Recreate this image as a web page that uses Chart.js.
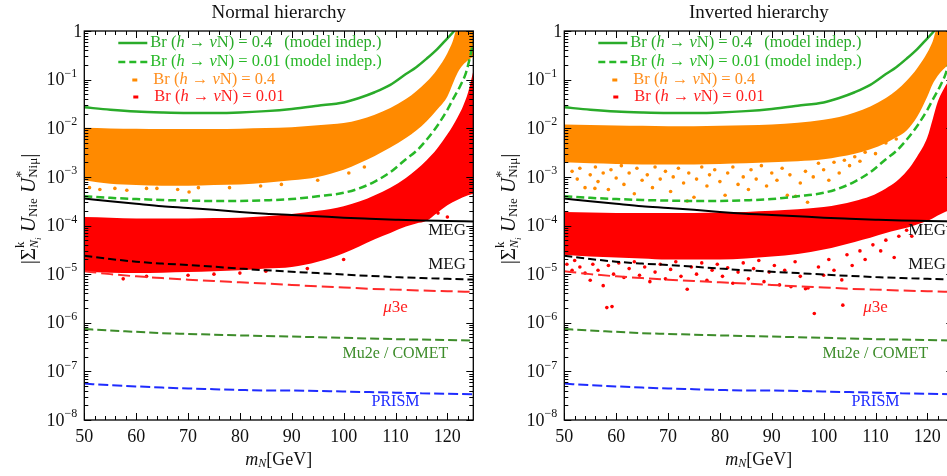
<!DOCTYPE html>
<html>
<head>
<meta charset="utf-8">
<script src="https://cdn.jsdelivr.net/npm/chart.js@4.4.0/dist/chart.umd.min.js"></script>
<style>
html, body { margin: 0; padding: 0; background: #fff; overflow: hidden; }
#wrap { position: relative; width: 947px; height: 476px; overflow: hidden; }
canvas { position: absolute; top: 0; }
</style>
</head>
<body>
<div id="wrap">
  <canvas id="nh" width="480" height="476" style="left:0"></canvas>
  <canvas id="ih" width="480" height="476" style="left:480px"></canvas>
</div>
<script>
const FONT = "'Liberation Serif', 'DejaVu Serif', serif";

// tick labels
const xTicks = [50, 60, 70, 80, 90, 100, 110, 120];
const yTickExps = [0, -1, -2, -3, -4, -5, -6, -7, -8];

// experimental limits (same in both panels)
const mLimit = [50, 55, 60, 65, 70, 75, 80, 85, 90, 95, 100, 105, 110, 115, 120, 125];
const megNow = [3.6e-4, 3.15e-4, 2.8e-4, 2.5e-4, 2.3e-4, 2.1e-4, 1.9e-4, 1.75e-4, 1.65e-4, 1.55e-4, 1.45e-4, 1.38e-4, 1.32e-4, 1.27e-4, 1.24e-4, 1.21e-4];
const megFuture = [2.4e-5, 2.05e-5, 1.8e-5, 1.65e-5, 1.54e-5, 1.42e-5, 1.3e-5, 1.2e-5, 1.12e-5, 1.05e-5, 9.8e-6, 9.2e-6, 8.7e-6, 8.3e-6, 8.0e-6, 7.7e-6];
const mu3e = [1.15e-5, 1.0e-5, 9.0e-6, 8.3e-6, 7.7e-6, 7.2e-6, 6.8e-6, 6.4e-6, 6.0e-6, 5.6e-6, 5.3e-6, 5.0e-6, 4.8e-6, 4.6e-6, 4.45e-6, 4.3e-6];
const mu2e = [7.4e-7, 6.9e-7, 6.5e-7, 6.1e-7, 5.9e-7, 5.7e-7, 5.5e-7, 5.35e-7, 5.2e-7, 5.05e-7, 4.9e-7, 4.75e-7, 4.6e-7, 4.5e-7, 4.4e-7, 4.3e-7];
const prism = [5.6e-8, 5.2e-8, 4.9e-8, 4.65e-8, 4.45e-8, 4.3e-8, 4.15e-8, 4.05e-8, 4.05e-8, 3.95e-8, 3.85e-8, 3.75e-8, 3.65e-8, 3.55e-8, 3.45e-8, 3.38e-8];

// model independent curves
const mBr04 = [50, 55, 60, 65, 70, 75, 80, 85, 90, 95, 100, 103, 106, 109, 112, 114, 116, 118, 119.5, 121, 122];
const br04 = [0.027, 0.024, 0.022, 0.021, 0.0205, 0.0205, 0.021, 0.0225, 0.025, 0.029, 0.034, 0.042, 0.055, 0.078, 0.13, 0.18, 0.27, 0.42, 0.62, 0.92, 1.25];
const mBr001 = [50, 55, 60, 65, 70, 75, 80, 85, 90, 95, 100, 103, 106, 109, 112, 114, 116, 118, 120, 121, 122.5, 123.6, 124.4, 125];
const br001 = [4.0e-4, 3.7e-4, 3.5e-4, 3.35e-4, 3.25e-4, 3.2e-4, 3.2e-4, 3.3e-4, 3.5e-4, 4.0e-4, 4.7e-4, 5.8e-4, 8.0e-4, 1.25e-3, 2.3e-3, 3.4e-3, 5.8e-3, 1.1e-2, 2.4e-2, 3.8e-2, 7.5e-2, 0.14, 0.3, 0.6];

// scan bands
const mBand = [50, 55, 60, 65, 70, 75, 80, 85, 90, 95, 100, 103, 106, 109, 112, 114, 116, 118, 120, 121, 122, 123, 124, 125];
const orangeUpNH = [0.0102, 0.0099, 0.0098, 0.0097, 0.0097, 0.0097, 0.0098, 0.0101, 0.0105, 0.0115, 0.0128, 0.015, 0.019, 0.026, 0.04, 0.058, 0.09, 0.16, 0.35, 0.6, 1.2, 1.2, 1.2, 1.2];
const orangeLoNH = [8.5e-4, 7.2e-4, 6.8e-4, 6.6e-4, 6.6e-4, 6.8e-4, 7.0e-4, 7.6e-4, 8.5e-4, 1.0e-3, 1.4e-3, 1.9e-3, 2.7e-3, 4.0e-3, 6.3e-3, 9.0e-3, 0.014, 0.024, 0.045, 0.08, 0.14, 0.2, 0.25, 0.3];
const redUpNH = [1.5e-4, 1.45e-4, 1.4e-4, 1.4e-4, 1.4e-4, 1.42e-4, 1.45e-4, 1.55e-4, 1.72e-4, 2.0e-4, 2.5e-4, 3.1e-4, 4.2e-4, 6.0e-4, 9.5e-4, 1.4e-3, 2.2e-3, 3.8e-3, 7.5e-3, 0.011, 0.017, 0.028, 0.055, 0.15];
const redLoNH = [1.1e-5, 1.07e-5, 1.05e-5, 1.07e-5, 1.1e-5, 1.15e-5, 1.2e-5, 1.3e-5, 1.4e-5, 1.8e-5, 2.7e-5, 3.7e-5, 5.2e-5, 7.0e-5, 9.5e-5, 1.1e-4, 1.25e-4, 1.8e-4, 2.6e-4, 3.0e-4, 3.4e-4, 3.8e-4, 4.2e-4, 4.5e-4];

const orangeUpIH = [0.012, 0.0117, 0.0114, 0.0112, 0.011, 0.011, 0.0112, 0.0115, 0.012, 0.013, 0.015, 0.017, 0.021, 0.028, 0.042, 0.06, 0.095, 0.17, 0.36, 0.6, 1.2, 1.2, 1.2, 1.2];
const orangeLoIH = [2.0e-3, 1.9e-3, 1.85e-3, 1.8e-3, 1.8e-3, 1.8e-3, 1.85e-3, 1.9e-3, 2.0e-3, 2.1e-3, 2.3e-3, 2.6e-3, 3.0e-3, 3.7e-3, 5.0e-3, 6.5e-3, 9.0e-3, 0.017, 0.045, 0.08, 0.12, 0.16, 0.2, 0.24];
const redUpIH = [1.9e-4, 1.85e-4, 1.8e-4, 1.8e-4, 1.8e-4, 1.8e-4, 1.85e-4, 1.9e-4, 2.0e-4, 2.15e-4, 2.4e-4, 2.7e-4, 3.2e-4, 4.0e-4, 5.8e-4, 8.0e-4, 1.3e-3, 2.6e-3, 6.5e-3, 0.015, 0.035, 0.06, 0.09, 0.12];
const redLoIH = [2.5e-5, 2.3e-5, 2.2e-5, 2.1e-5, 2.0e-5, 2.0e-5, 2.0e-5, 2.1e-5, 2.3e-5, 2.6e-5, 3.2e-5, 3.8e-5, 4.6e-5, 5.6e-5, 7.0e-5, 8.0e-5, 9.0e-5, 1.05e-4, 1.25e-4, 1.4e-4, 1.6e-4, 1.8e-4, 2.0e-4, 2.2e-4];

// scattered points outside the dense bands
const orOutNHm = [51, 53, 55.9, 58.2, 62, 64, 68, 70.2, 72, 78, 84, 88, 95, 101, 104];
const orOutNHu = [6.0e-4, 5.5e-4, 5.8e-4, 5.3e-4, 5.8e-4, 5.8e-4, 5.5e-4, 4.9e-4, 6.0e-4, 6.0e-4, 6.5e-4, 7.0e-4, 8.5e-4, 1.2e-3, 1.6e-3];
const rdOutNHm = [57.5, 62, 70, 75, 80, 85, 93, 100, 118.2, 120];
const rdOutNHu = [8.0e-6, 9.0e-6, 9.5e-6, 1.0e-5, 1.05e-5, 1.15e-5, 1.3e-5, 2.0e-5, 1.8e-4, 1.5e-4];

const orOutIHm = [51.5, 52.5, 53, 54, 55, 55.9, 56, 56.5, 57.5, 58.5, 59, 60, 61, 61.5, 62.5, 63.5, 64, 65, 66, 67, 67.5, 68.5, 69.5, 70.5, 71, 72, 73, 73.7, 74, 75, 75.5, 76.5, 77.5, 78, 79, 80, 81, 81.5, 82.5, 83.5, 84.5, 85.5, 86, 87, 88, 89, 90, 91, 92, 93, 93.5, 94.6, 95.5, 96.5, 96.9, 98, 99, 100, 101, 102, 103, 104, 105, 106, 107, 108, 110, 112, 114];
const orOutIHu = [1.3e-3, 9.0e-4, 1.5e-3, 6.0e-4, 1.1e-3, 5.8e-4, 1.6e-3, 8.0e-4, 1.2e-3, 5.5e-4, 1.4e-3, 9.5e-4, 1.7e-3, 7.0e-4, 1.2e-3, 4.5e-4, 1.5e-3, 8.5e-4, 1.1e-3, 6.0e-4, 1.6e-3, 9.0e-4, 1.3e-3, 5.0e-4, 1.0e-3, 1.5e-3, 7.5e-4, 3.2e-4, 1.2e-3, 3.8e-4, 9.0e-4, 1.6e-3, 6.5e-4, 1.1e-3, 1.4e-3, 8.0e-4, 4.2e-4, 1.2e-3, 1.6e-3, 7.0e-4, 1.0e-3, 5.5e-4, 1.4e-3, 9.0e-4, 1.7e-3, 6.5e-4, 1.2e-3, 8.5e-4, 1.5e-3, 4.2e-4, 1.1e-3, 4.0e-4, 7.5e-4, 1.3e-3, 3.0e-4, 1.0e-3, 1.9e-3, 1.4e-3, 8.5e-4, 2.0e-3, 1.2e-3, 2.2e-3, 1.7e-3, 2.6e-3, 2.1e-3, 3.2e-3, 3.0e-3, 5.0e-3, 6.0e-3];
const rdOutIHm = [50.5, 51.5, 52, 53, 54, 55, 55.5, 56.5, 57.5, 58.2, 59.2, 58.5, 59.5, 60.5, 61.5, 62.5, 63.5, 64.5, 65.5, 66.5, 67.5, 68.5, 69.5, 70.5, 71.5, 72.5, 73.7, 74.5, 75.5, 76.5, 77.5, 78.5, 79.5, 80.5, 81.5, 82.5, 83.5, 84.5, 85.5, 86.5, 87.5, 88.5, 89.5, 90.5, 91.5, 92.5, 93.7, 94.5, 95.5, 96.5, 97, 98.2, 99, 100, 101, 102, 103.5, 103.7, 104.5, 105.5, 107, 108, 109.5, 111, 112, 113.6, 114.5, 116, 117];
const rdOutIHu = [1.6e-5, 1.2e-5, 1.9e-5, 1.4e-5, 1.05e-5, 7.5e-6, 1.6e-5, 1.2e-5, 5.8e-6, 2.05e-6, 2.15e-6, 1.5e-5, 1.0e-5, 1.7e-5, 8.5e-6, 1.3e-5, 1.8e-5, 9.5e-6, 1.4e-5, 7.0e-6, 1.1e-5, 1.6e-5, 8.0e-6, 1.25e-5, 1.8e-5, 9.0e-6, 4.9e-6, 1.4e-5, 1.0e-5, 1.7e-5, 7.5e-6, 1.2e-5, 1.6e-5, 9.0e-6, 1.35e-5, 6.5e-6, 1.1e-5, 1.7e-5, 8.0e-6, 1.3e-5, 1.9e-5, 7.0e-6, 1.1e-5, 1.5e-5, 6.0e-6, 1.2e-5, 5.5e-6, 1.8e-5, 9.0e-6, 5.0e-6, 5.2e-6, 1.55e-6, 1.4e-5, 9.5e-6, 2.0e-5, 1.2e-5, 7.6e-6, 2.3e-6, 2.5e-5, 1.5e-5, 3.0e-5, 2.0e-5, 4.0e-5, 3.0e-5, 5.0e-5, 2.2e-5, 6.0e-5, 8.0e-5, 6.0e-5];

const GREEN = '#2aab2a', GREEN2 = '#27b827', DKGREEN = '#3d8c2a', ORANGE = '#ff8a00', RED = '#ff0000', BLUE = '#1f2cff';

function pts(ms, us) { return ms.map((m, i) => ({ x: m, y: us[i] })); }

function lineDs(ms, us, color, width, dash) {
    return { data: pts(ms, us), borderColor: color, borderWidth: width, borderDash: dash || [],
        pointRadius: 0, fill: false, cubicInterpolationMode: 'monotone', order: 1 };
}

function bandDs(ms, up, lo, color, order) {
    return [
        { data: pts(ms, up), borderWidth: 0, borderColor: color, backgroundColor: color, pointRadius: 0,
          fill: '+1', cubicInterpolationMode: 'monotone', order: order },
        { data: pts(ms, lo), borderWidth: 0, pointRadius: 0, fill: false, cubicInterpolationMode: 'monotone', order: order }
    ];
}

function dotsDs(ms, us, color, order) {
    return { type: 'scatter', data: pts(ms, us), showLine: false, pointRadius: 1.8, pointBorderWidth: 0,
        pointBackgroundColor: color, order: order };
}

// draws a sequence of text pieces with their own size / style / offset
function rich(ctx, parts, x, y, align, color) {
    let w = 0;
    parts.forEach(p => {
        ctx.font = (p.i ? 'italic ' : '') + p.s + 'px ' + FONT;
        if (!p.na) w += ctx.measureText(p.t).width;
    });
    let cx = align === 'center' ? x - w / 2 : (align === 'right' ? x - w : x);
    ctx.textAlign = 'left';
    ctx.textBaseline = 'middle';
    parts.forEach(p => {
        ctx.font = (p.i ? 'italic ' : '') + p.s + 'px ' + FONT;
        ctx.fillStyle = p.c || color;
        ctx.fillText(p.t, cx, y + (p.dy || 0));
        if (!p.na) cx += ctx.measureText(p.t).width;
    });
}

function brText(val, extra) {
    const s = 16.5;
    const parts = [{ t: 'Br (', s: s }, { t: 'h', s: s, i: true }, { t: ' \u2192 ', s: s }, { t: '\u03bd', s: s, i: true }, { t: 'N) = ' + val, s: s }];
    if (extra) parts.push({ t: extra, s: s });
    return parts;
}

const decor = {
    id: 'decor',
    afterDraw(chart, args, opts) {
        const ctx = chart.ctx, a = chart.chartArea, xs = chart.scales.x, ys = chart.scales.y;
        ctx.save();

        // frame
        ctx.strokeStyle = '#000';
        ctx.lineWidth = 1.3;
        ctx.strokeRect(a.left, a.top, a.right - a.left, a.bottom - a.top);

        // inward ticks
        ctx.lineWidth = 1;
        ctx.beginPath();
        for (let m = 50; m <= 125; m += 2) {
            const px = Math.round(xs.getPixelForValue(m)) + 0.5;
            const len = m % 10 === 0 ? 7 : 4;
            ctx.moveTo(px, a.bottom); ctx.lineTo(px, a.bottom - len);
            ctx.moveTo(px, a.top); ctx.lineTo(px, a.top + len);
        }
        yTickExps.forEach(e => {
            for (let k = 1; k <= 9; k++) {
                const v = k * Math.pow(10, e);
                if (v > 1.0001) break;
                const py = Math.round(ys.getPixelForValue(v)) + 0.5;
                const len = k === 1 ? 7 : 4;
                ctx.moveTo(a.left, py); ctx.lineTo(a.left + len, py);
                ctx.moveTo(a.right, py); ctx.lineTo(a.right - len, py);
            }
        });
        ctx.stroke();

        // y tick labels
        yTickExps.forEach(e => {
            const py = ys.getPixelForValue(Math.pow(10, e)) + 1;
            if (e === 0) rich(ctx, [{ t: '1', s: 18 }], a.left - 2, py, 'right', '#111');
            else rich(ctx, [{ t: '10', s: 18 }, { t: '\u2212' + (-e), s: 12, dy: -7 }], a.left - 7, py, 'right', '#111');
        });

        // titles
        const cx = (a.left + a.right) / 2;
        rich(ctx, [{ t: opts.title, s: 19 }], cx, 13, 'center', '#111');
        rich(ctx, [{ t: 'm', s: 18, i: true }, { t: 'N', s: 12, i: true, dy: 4 }, { t: '[GeV]', s: 18 }], cx, 460, 'center', '#111');

        ctx.save();
        ctx.translate(29, 209);
        ctx.rotate(-Math.PI / 2);
        rich(ctx, [
            { t: '|\u03a3', s: 21 },
            { t: 'k', s: 13, dy: -8, na: true },
            { t: 'N', s: 12, i: true, dy: 6 }, { t: 'i', s: 9, i: true, dy: 10 },
            { t: ' U', s: 21, i: true }, { t: 'Nie', s: 13, dy: 5 },
            { t: ' U', s: 21, i: true }, { t: '*', s: 14, dy: -7, na: true }, { t: 'Ni\u03bc', s: 13, dy: 5 },
            { t: '|', s: 21 }
        ], 0, 0, 'center', '#111');
        ctx.restore();

        // legend
        const lx = a.left + 34, tx = a.left + 66;
        const r = [a.top + 12, a.top + 31, a.top + 49, a.top + 66];
        ctx.lineWidth = 2.5;
        ctx.strokeStyle = GREEN;
        ctx.beginPath(); ctx.moveTo(lx, r[0]); ctx.lineTo(lx + 29, r[0]); ctx.stroke();
        ctx.strokeStyle = GREEN2;
        ctx.setLineDash([7, 4]);
        ctx.beginPath(); ctx.moveTo(lx, r[1]); ctx.lineTo(lx + 29, r[1]); ctx.stroke();
        ctx.setLineDash([]);
        ctx.fillStyle = ORANGE; ctx.fillRect(lx + 14, r[2] - 1.5, 5, 3);
        ctx.fillStyle = RED; ctx.fillRect(lx + 15, r[3] - 1.5, 5, 3);
        rich(ctx, brText('0.4'), tx, r[0], 'left', GREEN);
        rich(ctx, [{ t: '(model indep.)', s: 16.5 }], a.left + 200, r[0], 'left', GREEN);
        rich(ctx, brText('0.01', ' (model indep.)'), tx, r[1], 'left', GREEN2);
        rich(ctx, brText('0.4'), tx + 3, r[2], 'left', '#ff8f1f');
        rich(ctx, brText('0.01'), tx + 4, r[3], 'left', '#ff1f1f');

        // limit labels
        const at = (m, u) => [xs.getPixelForValue(m), ys.getPixelForValue(u)];
        let p = at(116.3, 8.0e-5); rich(ctx, [{ t: 'MEG', s: 17 }], p[0], p[1], 'left', '#111');
        p = at(116.3, 1.54e-5); rich(ctx, [{ t: 'MEG', s: 17 }], p[0], p[1], 'left', '#111');
        p = at(110, 2.1e-6); rich(ctx, [{ t: '\u03bc', s: 17, i: true }, { t: '3e', s: 17 }], p[0], p[1], 'center', '#ff2020');
        p = at(110, 2.25e-7); rich(ctx, [{ t: 'Mu2e / COMET', s: 16 }], p[0], p[1], 'center', DKGREEN);
        p = at(110, 2.35e-8); rich(ctx, [{ t: 'PRISM', s: 16 }], p[0], p[1], 'center', BLUE);

        ctx.restore();
    }
};

function makeChart(id, title, band, outs) {
    const datasets = [
        lineDs(mBr04, br04, GREEN, 2.5),
        lineDs(mBr001, br001, GREEN2, 2.5, [8, 4]),
        lineDs(mLimit, megNow, '#000', 2),
        lineDs(mLimit, megFuture, '#000', 2, [8, 4]),
        lineDs(mLimit, mu3e, '#ff2a2a', 2, [12, 5]),
        lineDs(mLimit, mu2e, DKGREEN, 2, [9, 4]),
        lineDs(mLimit, prism, BLUE, 2, [10, 4]),
        dotsDs(outs[2], outs[3], RED, 3),
        dotsDs(outs[0], outs[1], ORANGE, 4),
        ...bandDs(mBand, band[2], band[3], RED, 5),
        ...bandDs(mBand, band[0], band[1], ORANGE, 6)
    ];
    return new Chart(document.getElementById(id), {
        type: 'line',
        data: { datasets: datasets },
        options: {
            responsive: false,
            animation: false,
            layout: { padding: { left: 0, right: 6.7, top: 31, bottom: 0 } },
            plugins: { legend: { display: false }, tooltip: { enabled: false }, decor: { title: title } },
            scales: {
                x: {
                    type: 'linear', min: 50, max: 125,
                    grid: { display: false, drawTicks: false }, border: { display: false },
                    ticks: {
                        stepSize: 10, includeBounds: false, padding: 6, color: '#111',
                        font: { family: FONT, size: 18 },
                        callback: v => (xTicks.includes(v) ? String(v) : '')
                    },
                    afterFit: s => { s.height = 56; }
                },
                y: {
                    type: 'logarithmic', min: 1e-8, max: 1,
                    grid: { display: false, drawTicks: false }, border: { display: false },
                    ticks: { display: false },
                    afterFit: s => { s.width = 84.3; }
                }
            }
        },
        plugins: [decor]
    });
}

makeChart('nh', 'Normal hierarchy', [orangeUpNH, orangeLoNH, redUpNH, redLoNH], [orOutNHm, orOutNHu, rdOutNHm, rdOutNHu]);
makeChart('ih', 'Inverted hierarchy', [orangeUpIH, orangeLoIH, redUpIH, redLoIH], [orOutIHm, orOutIHu, rdOutIHm, rdOutIHu]);
</script>
</body>
</html>
